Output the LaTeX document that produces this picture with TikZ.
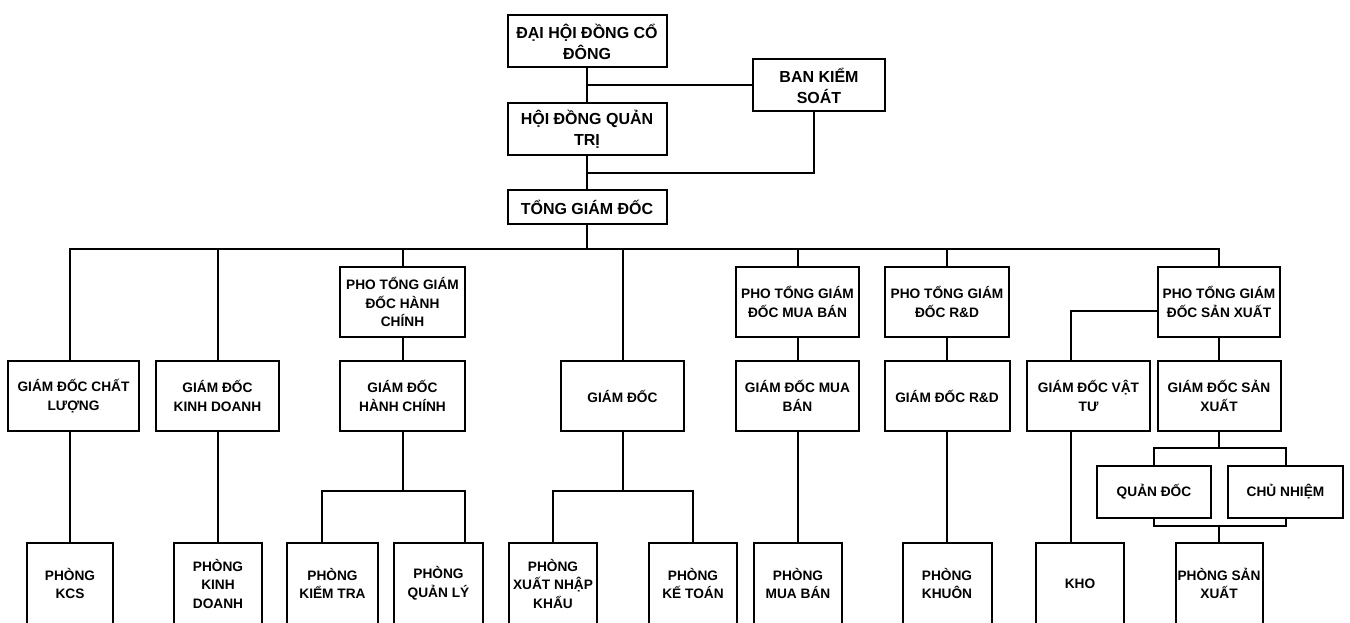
\documentclass[tikz,border=0pt]{standalone}
\usepackage{fontspec}
\setmainfont{Liberation Sans}
\usepackage{tikz}
\usetikzlibrary{positioning}

\begin{document}
\begin{tikzpicture}[x=1pt, y=-1pt, line width=2pt,
    every node/.style={align=center, inner sep=1pt, font=\bfseries\fontsize{13.7}{18.5}\selectfont},
    headbox/.style={draw, minimum width=159, minimum height=52, font=\bfseries\fontsize{16}{21}\selectfont},
    unitbox/.style={draw, minimum width=123, minimum height=70},
    roombox/.style={draw, minimum width=88, minimum height=82}
    ]
\useasboundingbox (0,0) rectangle (1350,623);
\clip (0,0) rectangle (1350,623);
% top of the chart
\node[headbox]                     (dhd)  at (587,41.5) {ĐẠI HỘI ĐỒNG CỔ\\ĐÔNG};
\node[headbox, minimum width=132]  (bks)  at (819,85.5)   {BAN KIỂM\\SOÁT};
\node[headbox]                     (hdqt) at (587,129)  {HỘI ĐỒNG QUẢN\\TRỊ};
\node[headbox, minimum height=34]  (tgd)  at (587,207)  {TỔNG GIÁM ĐỐC};
\coordinate (bus) at (587,249);
\coordinate (bksj) at (587,173);
% vice directors
\node[unitbox, minimum width=125] (ptghc) at (402.5,302) {PHO TỔNG GIÁM\\ĐỐC HÀNH\\CHÍNH};
\node[unitbox]                    (ptgmb) at (797.5,302) {PHO TỔNG GIÁM\\ĐỐC MUA BÁN};
\node[unitbox, minimum width=124] (ptgrd) at (947,302)   {PHO TỔNG GIÁM\\ĐỐC R\&D};
\node[unitbox, minimum width=122] (ptgsx) at (1219,302)  {PHO TỔNG GIÁM\\ĐỐC SẢN XUẤT};
% directors
\node[unitbox, minimum width=131] (gdcl) at (73.5,396)   {GIÁM ĐỐC CHẤT\\LƯỢNG};
\node[unitbox]                    (gdkd) at (217.5,396)  {GIÁM ĐỐC\\KINH DOANH};
\node[unitbox, minimum width=125] (gdhc) at (402.5,396)  {GIÁM ĐỐC\\HÀNH CHÍNH};
\node[unitbox]                    (gd)   at (622.5,396)  {GIÁM ĐỐC};
\node[unitbox]                    (gdmb) at (797.5,396)  {GIÁM ĐỐC MUA\\BÁN};
\node[unitbox, minimum width=125] (gdrd) at (947,396)    {GIÁM ĐỐC R\&D};
\node[unitbox]                    (gdvt) at (1088.5,396) {GIÁM ĐỐC VẬT\\TƯ};
\node[unitbox]                    (gdsx) at (1219,396)   {GIÁM ĐỐC SẢN\\XUẤT};
\node[unitbox, minimum width=114, minimum height=52] (qd) at (1154,492)   {QUẢN ĐỐC};
\node[unitbox, minimum width=115, minimum height=52] (cn) at (1285.5,492) {CHỦ NHIỆM};
\coordinate (hcj)  at (402.5,491);
\coordinate (gdj)  at (622.5,491);
\coordinate (sxj)  at (1219,448);
\coordinate (sxj2) at (1219,526);
% departments
\node[roombox, minimum width=86] (kcs)  at (70,583.5)     {PHÒNG\\KCS};
\node[roombox]                   (pkd)  at (218,583.5)    {PHÒNG\\KINH\\DOANH};
\node[roombox, minimum width=91] (pkt)  at (332.5,583.5)  {PHÒNG\\KIỂM TRA};
\node[roombox, minimum width=89] (pql)  at (438.5,583.5)  {PHÒNG\\QUẢN LÝ};
\node[roombox]                   (pxnk) at (553,583.5)    {PHÒNG\\XUẤT NHẬP\\KHẨU};
\node[roombox]                   (pktn) at (693,583.5)    {PHÒNG\\KẾ TOÁN};
\node[roombox]                   (pmb)  at (798,583.5)    {PHÒNG\\MUA BÁN};
\node[roombox, minimum width=89] (pkh)  at (947,583.5)    {PHÒNG\\KHUÔN};
\node[roombox]                   (kho)  at (1080,583.5)   {KHO};
\node[roombox, minimum width=87] (psx)  at (1219,583.5)   {PHÒNG SẢN\\XUẤT};

% connectors
\draw (dhd) -- (hdqt);
\draw (dhd.south |- bks.west) -- (bks.west);
\draw ([xshift=-5]bks.south) |- (bksj);
\draw (hdqt) -- (tgd);
\draw (tgd) -- (bus);
\draw (kcs.north |- gdcl.north) -- (kcs.north |- bus) -- (ptgsx.north |- bus) -- (ptgsx.north);
\draw (gdkd.north |- bus) -- (gdkd.north);
\draw (ptghc.north |- bus) -- (ptghc.north);
\draw (gd.north |- bus) -- (gd.north);
\draw (ptgmb.north |- bus) -- (ptgmb.north);
\draw (ptgrd.north |- bus) -- (ptgrd.north);
\draw (ptghc) -- (gdhc);
\draw (ptgmb) -- (gdmb);
\draw (ptgrd) -- (gdrd);
\draw (ptgsx) -- (gdsx);
\draw ([yshift=-9]ptgsx.west) -| ([xshift=-17.5]gdvt.north);
\draw (kcs.north |- gdcl.south) -- (kcs.north);
\draw (gdkd.south) -- (gdkd.south |- pkd.north);
\draw (gdhc.south) -- (hcj);
\draw ([xshift=-10.5]pkt.north) |- (hcj) -| ([xshift=26.5]pql.north);
\draw (gd.south) -- (gdj);
\draw (pxnk.north) |- (gdj) -| (pktn.north);
\draw (gdmb.south) -- (gdmb.south |- pmb.north);
\draw (gdrd) -- (pkh);
\draw ([xshift=-17.5]gdvt.south) -- ([xshift=-9]kho.north);
\draw (gdsx.south) -- (sxj);
\draw (qd.north) |- (sxj) -| (cn.north);
\draw (qd.south) |- (sxj2) -| (cn.south);
\draw (sxj2) -- (psx.north);
\end{tikzpicture}
\end{document}
